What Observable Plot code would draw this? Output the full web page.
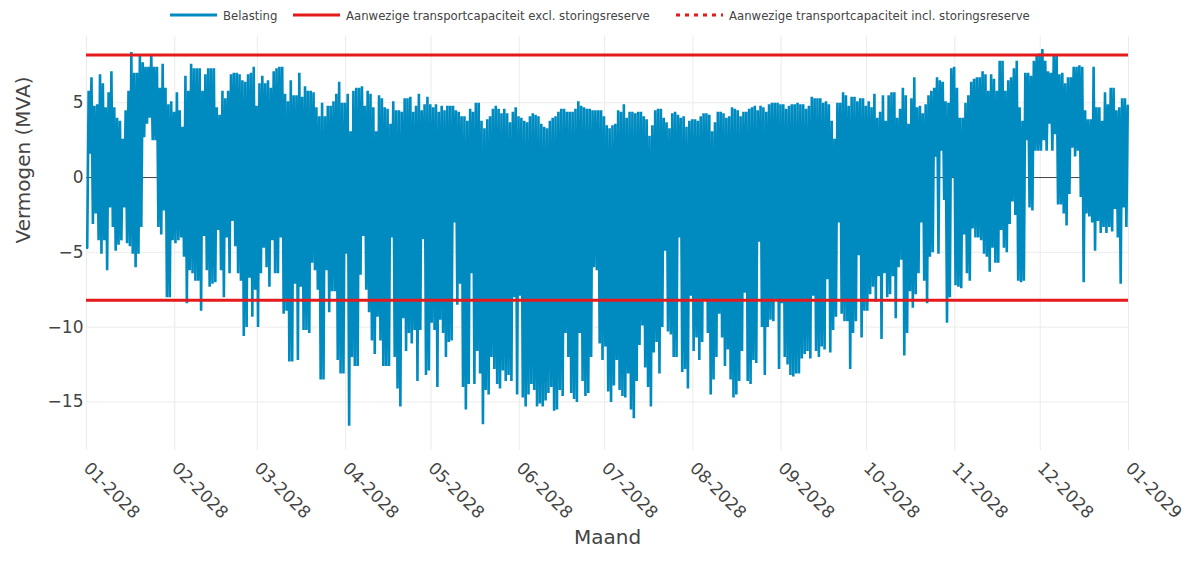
<!DOCTYPE html>
<html><head><meta charset="utf-8">
<script src="https://cdn.jsdelivr.net/npm/d3@7"></script>
<script src="https://cdn.jsdelivr.net/npm/@observablehq/plot@0.6"></script>
<style>
body{margin:0;background:#fff;width:1192px;height:563px;overflow:hidden;font-family:"DejaVu Sans",sans-serif;}
#legend{position:relative;height:28px;font-family:"DejaVu Sans Condensed","DejaVu Sans",sans-serif;font-size:13px;color:#444;}
.item{position:absolute;top:7px;display:flex;align-items:center;height:16px;white-space:nowrap;}
.item svg{margin-right:6px;}
</style></head>
<body>
<div id="legend"></div>
<div id="chart"></div>
<script>
const year = 2028;
const monthLabels = ["01-2028","02-2028","03-2028","04-2028","05-2028","06-2028","07-2028","08-2028","09-2028","10-2028","11-2028","12-2028","01-2029"];
const yTicks = [-15, -10, -5, 0, 5];
const seriesNames = ["Belasting", "Aanwezige transportcapaciteit excl. storingsreserve", "Aanwezige transportcapaciteit incl. storingsreserve"];
const capacityExcl = 8.2;
const capacityIncl = 8.2;

// daily maximum (hi) and minimum (lo) load per month, MVA
const hiJan = [5.8,6.7,4.8,4.9,6.9,6.3,4.7,5.7,7.1,4.7,4.0,3.8,2.6,4.5,5.8,8.4,7.0,7.0,8.2,7.7,7.4,7.4,8.2,7.4,7.4,6.0,7.6,6.0,4.9,5.1,4.4];
const loJan = [-4.7,1.6,-3.1,-2.4,-4.2,-5.1,-4.2,-6.2,-2.0,-3.3,-4.9,-4.5,-4.2,-2.0,-4.4,-4.6,-5.1,-6.0,-5.1,-3.3,2.7,3.6,4.0,2.5,2.5,-3.3,-3.8,-2.2,-8.0,-8.0,-4.2];
const hiFeb = [5.7,4.5,3.4,6.8,5.8,7.6,7.3,7.3,7.3,5.8,6.9,7.3,7.3,7.3,4.7,4.2,5.8,5.3,5.8,6.9,7.0,7.0,6.9,6.5,6.4,6.9,7.0,7.4,4.8];
const loFeb = [-4.4,-4.2,-4.0,-5.3,-8.4,-6.2,-6.4,-6.9,-6.9,-8.9,-3.9,-6.2,-7.3,-7.1,-7.0,-3.5,-6.2,-8.0,-4.0,-6.4,-2.9,-4.6,-6.4,-6.9,-10.6,-10.0,-6.7,-9.3,-7.5];
const hiMar = [6.3,6.8,6.3,6.5,6.0,7.1,7.3,7.4,7.4,5.6,5.1,6.5,5.5,5.5,7.0,5.4,6.1,5.8,5.8,5.7,4.7,4.1,5.0,4.1,4.8,4.8,5.1,5.6,6.4,5.0,5.0];
const loMar = [-10.0,-6.4,-4.7,-6.0,-7.3,-4.2,-6.4,-6.4,-4.0,-9.1,-8.9,-12.3,-12.3,-7.1,-12.2,-7.3,-10.2,-10.2,-10.4,-5.7,-6.2,-7.5,-13.5,-13.5,-6.2,-9.0,-7.6,-7.6,-12.2,-13.1,-13.1];
const hiApr = [5.6,3.1,5.8,6.0,6.0,6.1,4.8,5.8,5.6,4.7,3.1,5.5,5.3,4.7,4.6,3.6,5.1,4.5,4.5,4.4,5.3,5.3,5.4,4.4,4.8,5.6,4.5,4.9,5.4,4.9];
const loApr = [-5.1,-16.6,-12.0,-12.6,-12.6,-6.5,-3.9,-7.5,-9.0,-10.9,-11.8,-9.3,-10.9,-12.6,-12.6,-12.6,-4.0,-12.0,-14.1,-15.3,-9.4,-11.6,-10.4,-11.1,-10.2,-13.6,-10.2,-4.1,-13.2,-12.9];
const hiMay = [4.7,4.9,4.4,4.8,4.5,4.8,4.8,4.8,4.5,4.4,4.1,4.1,3.8,4.6,4.4,5.0,5.0,3.8,3.3,3.9,4.1,4.6,4.8,4.6,4.3,4.6,4.3,3.7,4.4,4.7,4.1];
const loMay = [-9.7,-10.2,-14.0,-9.5,-10.4,-12.0,-11.0,-10.9,-3.0,-8.5,-7.1,-14.0,-15.5,-13.8,-6.4,-13.8,-11.6,-13.1,-16.5,-14.2,-14.5,-12.0,-12.8,-13.8,-14.1,-12.9,-13.6,-13.2,-13.6,-8.0,-14.5];
const hiJun = [4.0,3.8,3.7,4.1,4.3,4.2,4.1,3.6,3.4,3.3,3.8,4.0,4.1,4.4,4.6,4.6,4.4,4.4,4.4,4.6,5.1,4.8,4.7,4.6,4.6,4.5,4.5,4.5,4.5,4.1];
const loJun = [-7.9,-14.7,-15.3,-14.5,-13.8,-14.2,-15.3,-15.1,-15.3,-14.9,-14.4,-14.0,-15.6,-15.5,-14.2,-14.6,-10.4,-12.0,-14.4,-14.8,-15.0,-10.4,-13.6,-14.6,-14.4,-12.0,-6.0,-6.2,-11.1,-12.2];
const hiJul = [3.5,3.3,3.5,3.6,4.5,4.4,4.9,4.0,4.4,4.4,4.3,4.4,4.4,4.1,3.9,2.8,3.5,4.5,4.6,4.6,4.0,3.7,3.3,4.3,4.4,4.2,4.0,4.1,3.4,3.8,3.9];
const loJul = [-11.3,-14.3,-15.0,-13.9,-12.2,-14.2,-14.6,-14.7,-13.1,-15.5,-16.1,-13.6,-11.2,-9.9,-12.7,-14.0,-15.3,-11.7,-11.0,-13.1,-10.0,-4.9,-10.3,-10.5,-12.0,-12.0,-4.0,-13.0,-12.8,-14.1,-7.9];
const hiAug = [3.9,3.8,4.1,4.3,4.3,4.2,3.1,3.7,4.4,4.4,4.3,4.0,4.1,4.7,4.6,4.5,4.1,4.4,4.4,4.6,4.7,4.8,4.5,4.8,4.7,4.4,4.9,5.0,5.0,5.0,4.9];
const loAug = [-11.6,-10.7,-12.2,-11.0,-8.2,-10.4,-14.5,-13.5,-12.0,-9.1,-10.7,-12.6,-11.5,-13.5,-14.7,-14.5,-13.6,-11.6,-7.7,-13.6,-13.8,-12.2,-12.4,-4.3,-10.0,-13.2,-10.0,-9.5,-9.6,-8.2,-12.8];
const hiSep = [4.9,4.6,4.8,4.9,4.9,5.0,4.9,4.9,4.6,4.8,5.4,5.3,5.3,5.3,5.0,5.1,4.9,3.8,2.6,5.0,5.0,5.7,5.5,4.8,5.4,5.4,5.1,5.3,5.3,4.8];
const loSep = [-8.4,-12.0,-12.5,-13.2,-13.3,-13.1,-13.1,-12.1,-11.8,-11.6,-12.1,-7.9,-11.6,-12.0,-11.3,-11.5,-6.8,-11.7,-10.2,-9.3,-3.0,-9.1,-9.6,-9.6,-12.8,-10.4,-9.6,-5.2,-10.7,-8.9];
const hiOct = [5.1,4.7,5.6,4.0,4.4,5.5,3.8,5.5,5.7,5.7,4.0,4.6,6.0,5.5,3.6,5.3,6.7,4.7,4.8,4.3,4.9,5.5,5.8,6.0,6.7,6.5,6.4,5.1,5.0,7.3,7.4];
const loOct = [-8.9,-7.8,-7.3,-8.3,-6.6,-10.8,-6.4,-8.0,-7.8,-6.6,-9.4,-6.0,-5.5,-11.9,-10.4,-7.6,-8.7,-7.8,-6.4,-3.0,-6.9,-8.4,-5.3,-5.0,1.4,-5.1,1.8,-1.5,-9.7,-8.0,0.0];
const hiNov = [6.0,4.0,4.0,5.0,5.5,6.4,6.6,6.7,6.7,7.1,6.9,5.8,6.9,6.6,5.8,7.8,7.8,5.8,6.5,6.7,7.3,7.8,4.7,3.8,7.0,7.0,6.8,7.8,8.2,8.3];
const loNov = [-7.2,-7.3,-7.4,-3.8,-6.4,-6.9,-3.4,-4.0,-4.0,-4.2,-5.1,-5.3,-6.3,-4.7,-5.7,-5.7,-3.5,-4.7,-5.0,-3.1,-1.6,-2.5,-6.9,-7.0,-6.9,2.5,-2.0,-2.2,1.8,1.8];
const hiDec = [8.6,7.8,7.1,7.0,8.2,8.2,6.9,7.0,6.3,6.7,6.7,7.4,7.4,7.5,7.4,4.5,3.9,3.9,7.4,4.7,4.7,3.8,5.7,4.9,6.0,6.0,4.5,4.7,5.3,5.3,4.8];
const loDec = [1.8,2.5,1.8,3.6,1.8,2.9,-1.8,-1.8,-2.4,-3.2,-1.1,2.0,1.4,1.8,-1.3,-7.0,-2.4,-2.6,-3.0,-4.9,-2.9,-3.7,-3.3,-3.7,-3.3,-3.6,-2.1,-4.0,-7.1,-2.0,-3.3];

const hiByMonth = [hiJan,hiFeb,hiMar,hiApr,hiMay,hiJun,hiJul,hiAug,hiSep,hiOct,hiNov,hiDec];
const loByMonth = [loJan,loFeb,loMar,loApr,loMay,loJun,loJul,loAug,loSep,loOct,loNov,loDec];

const load = [];
hiByMonth.forEach((arr, m) => arr.forEach((h, i) => {
  load.push({t: new Date(Date.UTC(year, m, i + 1, 6)), v: loByMonth[m][i]});
  load.push({t: new Date(Date.UTC(year, m, i + 1, 18)), v: h});
}));
const monthTicks = monthLabels.map(s => { const [mm, yy] = s.split("-"); return new Date(Date.UTC(+yy, +mm - 1, 1)); });

const blue = "#008bc0", red = "#e41a1c";

// legend
const legend = document.getElementById("legend");
const lefts = [170, 293, 676];
seriesNames.forEach((name, i) => {
  const it = document.createElement("div");
  it.className = "item";
  it.style.left = lefts[i] + "px";
  const col = i === 0 ? blue : red;
  const dash = i === 2 ? ' stroke-dasharray="4,5"' : '';
  it.innerHTML = `<svg width="47" height="6"><line x1="0" x2="47" y1="3" y2="3" stroke="${col}" stroke-width="3"${dash}/></svg><span>${name}</span>`;
  legend.appendChild(it);
});

const chart = Plot.plot({
  width: 1192, height: 535,
  marginTop: 8, marginBottom: 113, marginLeft: 86, marginRight: 64,
  style: {fontFamily: "DejaVu Sans, sans-serif", fontSize: "17px", color: "#444", background: "white"},
  x: {type: "utc", domain: [monthTicks[0], monthTicks[12]], axis: null},
  y: {domain: [-18.25, 9.43]},
  marks: [
    Plot.gridX(monthTicks, {stroke: "#ebebeb", strokeOpacity: 1, strokeWidth: 1}),
    Plot.gridY(yTicks.filter(d => d !== 0), {stroke: "#ebebeb", strokeOpacity: 1, strokeWidth: 1}),
    Plot.ruleY([0], {stroke: "#444", strokeWidth: 1}),
    Plot.line(load, {x: "t", y: "v", stroke: blue, strokeWidth: 2.6, strokeLinejoin: "bevel"}),
    Plot.ruleY([-capacityIncl, capacityIncl], {stroke: red, strokeWidth: 1.5, strokeDasharray: "3,3"}),
    Plot.ruleY([-capacityExcl, capacityExcl], {stroke: red, strokeWidth: 3}),
    Plot.axisY(yTicks, {tickSize: 0, tickPadding: 3, tickFormat: d3.format("d"), label: null}),
    Plot.text(monthTicks, {x: d => d, frameAnchor: "bottom", text: (d, i) => monthLabels[i], rotate: 45, textAnchor: "start", lineAnchor: "middle", dy: 15, fontSize: 17, fill: "#444"}),
    Plot.text(["Maand"], {frameAnchor: "bottom", dy: 93, fontSize: 20, fill: "#444"}),
    Plot.text(["Vermogen (MVA)"], {frameAnchor: "left", dx: -63, rotate: -90, fontSize: 20, fill: "#444"})
  ]
});
document.getElementById("chart").appendChild(chart);
</script>
</body></html>
